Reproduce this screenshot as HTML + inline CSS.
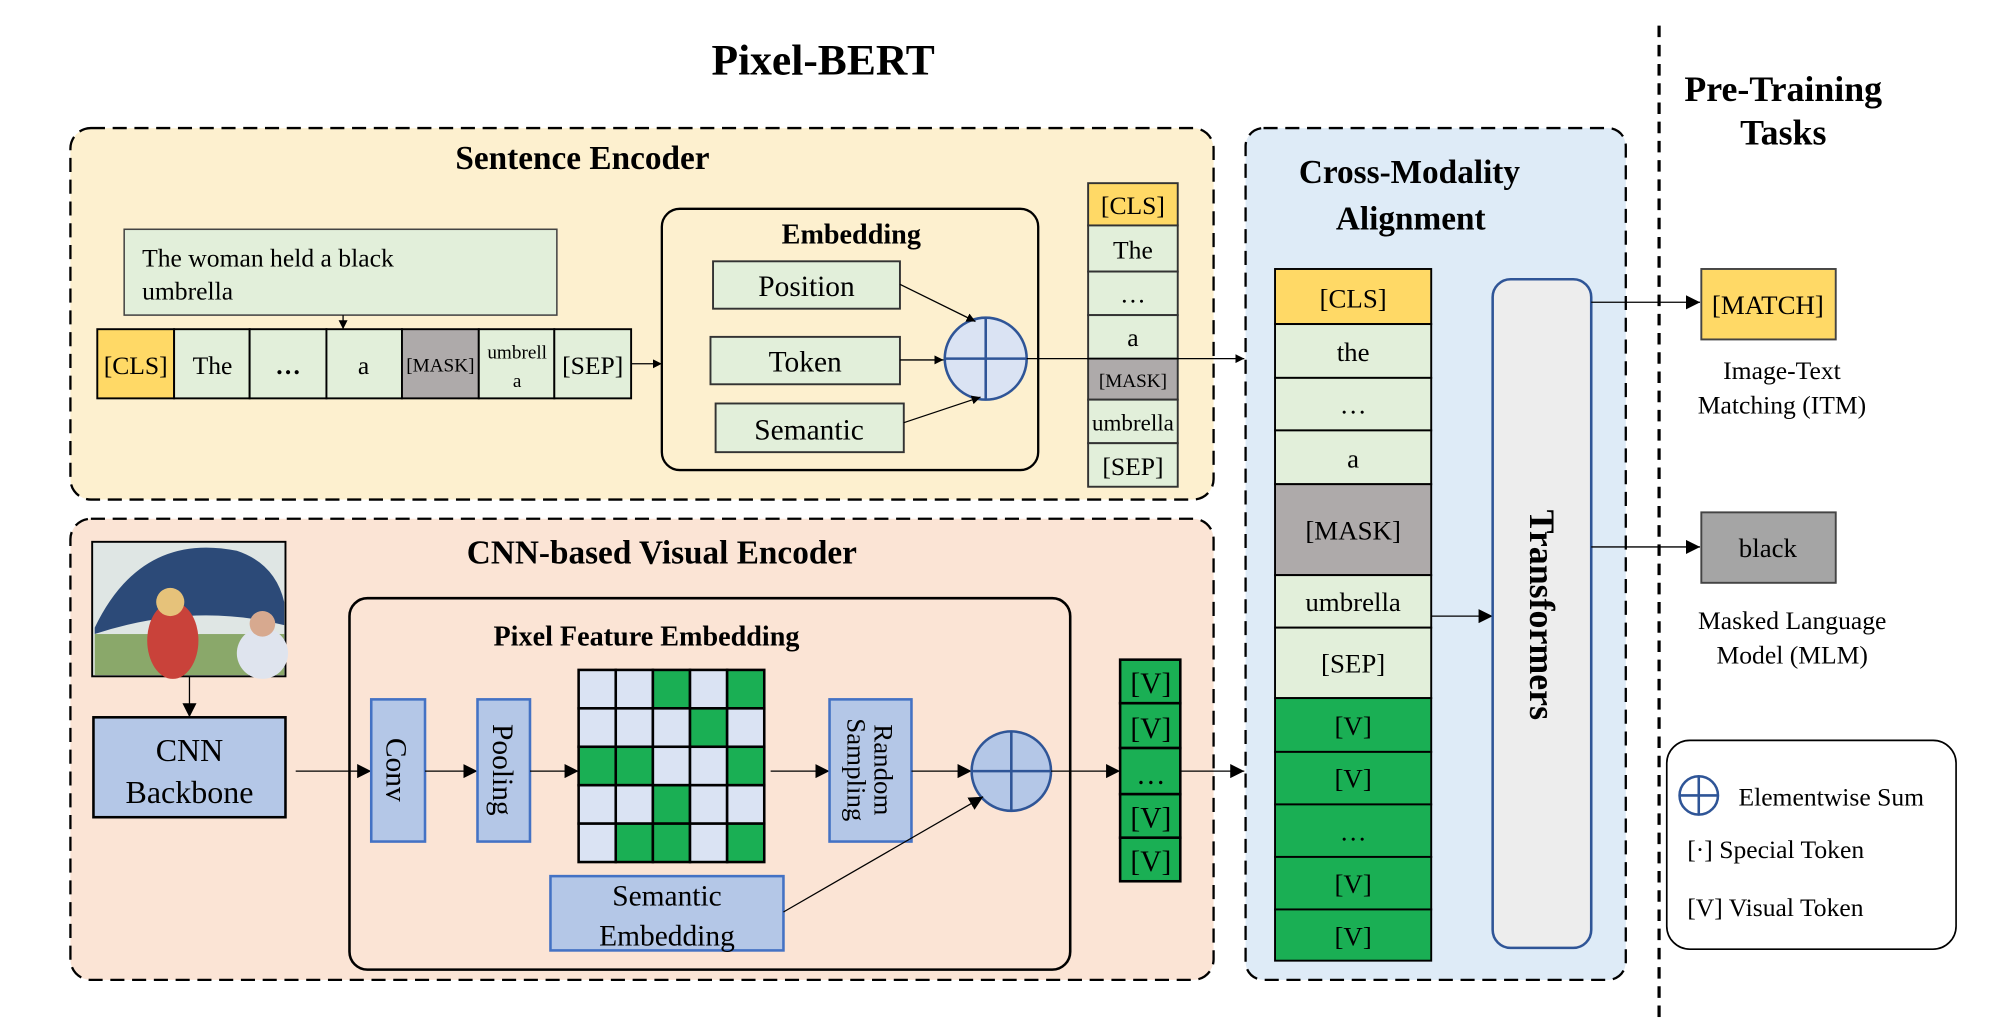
<!DOCTYPE html>
<html><head><meta charset="utf-8"><style>
html,body{margin:0;padding:0;background:#fff;}
svg{display:block;}
text{font-family:"Liberation Serif",serif;fill:#000;}
.b{font-weight:bold;}
</style></head><body>
<svg width="2006" height="1026" viewBox="0 0 1567 801" preserveAspectRatio="none" xmlns="http://www.w3.org/2000/svg">
<defs>
<marker id="a" viewBox="0 0 10 10" refX="10" refY="5" markerWidth="7" markerHeight="7" orient="auto" markerUnits="userSpaceOnUse"><path d="M0,0 L10,5 L0,10 z" fill="#000"/></marker>
<marker id="A" viewBox="0 0 10 10" refX="10" refY="5" markerWidth="11" markerHeight="11" orient="auto" markerUnits="userSpaceOnUse"><path d="M0,0 L10,5 L0,10 z" fill="#000"/></marker>
</defs>
<rect width="1567" height="801" fill="#fff"/>
<text x="643" y="58" font-size="34" class="b" text-anchor="middle">Pixel-BERT</text>

<rect x="55" y="100" width="893" height="290" rx="16" fill="#fdf0cf" stroke="#000" stroke-width="1.8" stroke-dasharray="11,6"/>
<text x="455" y="132" font-size="26" class="b" text-anchor="middle">Sentence Encoder</text>
<rect x="97" y="179" width="338" height="67" fill="#e2efda" stroke="#444" stroke-width="1.2"/>
<text x="111" y="208" font-size="20">The woman held a black</text>
<text x="111" y="234" font-size="20">umbrella</text>
<line x1="268" y1="246" x2="268" y2="257" stroke="#000" marker-end="url(#a)"/>
<g stroke="#000" stroke-width="1.5">
<rect x="76" y="257" width="60" height="54" fill="#ffd966"/>
<rect x="136" y="257" width="59" height="54" fill="#e2efda"/>
<rect x="195" y="257" width="60" height="54" fill="#e2efda"/>
<rect x="255" y="257" width="59" height="54" fill="#e2efda"/>
<rect x="314" y="257" width="60" height="54" fill="#aeaaaa"/>
<rect x="374" y="257" width="59" height="54" fill="#e2efda"/>
<rect x="433" y="257" width="60" height="54" fill="#e2efda"/>
</g>
<g font-size="20" text-anchor="middle">
<text x="106" y="292">[CLS]</text><text x="166" y="292">The</text><text x="225" y="292" class="b">…</text>
<text x="284" y="292">a</text><text x="344" y="290" font-size="15">[MASK]</text>
<text x="404" y="280" font-size="15">umbrell</text><text x="404" y="302" font-size="15">a</text>
<text x="463" y="292">[SEP]</text></g>
<line x1="493" y1="284" x2="517" y2="284" stroke="#000" marker-end="url(#a)"/>
<rect x="517" y="163" width="294" height="204" rx="14" fill="#fdf0cf" stroke="#000" stroke-width="1.8"/>
<text x="665" y="190" font-size="22" class="b" text-anchor="middle">Embedding</text>
<g fill="#e2efda" stroke="#333" stroke-width="1.5">
<rect x="557" y="204" width="146" height="37"/><rect x="555" y="263" width="148" height="37"/><rect x="559" y="315" width="147" height="38"/></g>
<g font-size="23" text-anchor="middle"><text x="630" y="231">Position</text><text x="629" y="290">Token</text><text x="632" y="343">Semantic</text></g>
<circle cx="770" cy="280" r="32" fill="#dae3f3" stroke="#2f5597" stroke-width="2"/>
<path d="M738,280 H802 M770,248 V312" stroke="#2f5597" stroke-width="2"/>
<line x1="703" y1="222" x2="762" y2="251" stroke="#000" marker-end="url(#a)"/>
<line x1="703" y1="281" x2="737" y2="281" stroke="#000" marker-end="url(#a)"/>
<line x1="706" y1="330" x2="766" y2="310" stroke="#000" marker-end="url(#a)"/>
<g stroke="#333" stroke-width="1.5">
<rect x="850" y="143" width="70" height="33" fill="#ffd966"/>
<rect x="850" y="176" width="70" height="36" fill="#e2efda"/>
<rect x="850" y="212" width="70" height="34" fill="#e2efda"/>
<rect x="850" y="246" width="70" height="34" fill="#e2efda"/>
<rect x="850" y="280" width="70" height="32" fill="#aeaaaa"/>
<rect x="850" y="312" width="70" height="34" fill="#e2efda"/>
<rect x="850" y="346" width="70" height="34" fill="#e2efda"/></g>
<g font-size="20" text-anchor="middle">
<text x="885" y="167">[CLS]</text><text x="885" y="202">The</text><text x="885" y="236">…</text>
<text x="885" y="270">a</text><text x="885" y="302" font-size="15">[MASK]</text>
<text x="885" y="336" font-size="18">umbrella</text><text x="885" y="371">[SEP]</text></g>
<line x1="802" y1="280" x2="972" y2="280" stroke="#000" marker-end="url(#a)"/>

<rect x="55" y="405" width="893" height="360" rx="16" fill="#fbe4d5" stroke="#000" stroke-width="1.8" stroke-dasharray="11,6"/>
<text x="517" y="440" font-size="26" class="b" text-anchor="middle">CNN-based Visual Encoder</text>
<rect x="72" y="423" width="151" height="105" fill="#dfe6e4" stroke="#000" stroke-width="1.5"/>
<path d="M74,490 Q110,415 185,430 Q215,440 222,470 L222,488 Q150,470 74,495z" fill="#2c4a78"/>
<rect x="74" y="495" width="148" height="32" fill="#8aa86a"/>
<ellipse cx="135" cy="500" rx="20" ry="30" fill="#c9423a"/>
<circle cx="133" cy="470" r="11" fill="#e6c27a"/>
<ellipse cx="205" cy="510" rx="20" ry="20" fill="#dfe4ee"/>
<circle cx="205" cy="487" r="10" fill="#d7a98f"/>
<line x1="148" y1="528" x2="148" y2="560" stroke="#000" marker-end="url(#A)"/>
<rect x="73" y="560" width="150" height="78" fill="#b4c7e7" stroke="#000" stroke-width="2"/>
<text x="148" y="594" font-size="25" text-anchor="middle">CNN</text>
<text x="148" y="627" font-size="25" text-anchor="middle">Backbone</text>
<rect x="273" y="467" width="563" height="290" rx="14" fill="#fbe4d5" stroke="#000" stroke-width="2"/>
<text x="505" y="504" font-size="22" class="b" text-anchor="middle">Pixel Feature Embedding</text>
<line x1="231" y1="602" x2="290" y2="602" stroke="#000" marker-end="url(#A)"/>
<rect x="290" y="546" width="42" height="111" fill="#b4c7e7" stroke="#4472c4" stroke-width="2"/>
<text transform="translate(302,601) rotate(90)" font-size="23" text-anchor="middle">Conv</text>
<line x1="332" y1="602" x2="373" y2="602" stroke="#000" marker-end="url(#A)"/>
<rect x="373" y="546" width="41" height="111" fill="#b4c7e7" stroke="#4472c4" stroke-width="2"/>
<text transform="translate(385,601) rotate(90)" font-size="23" text-anchor="middle">Pooling</text>
<line x1="414" y1="602" x2="452" y2="602" stroke="#000" marker-end="url(#A)"/>
<g stroke="#000" stroke-width="2">
<rect x="452" y="523" width="29" height="30" fill="#dae3f3"/><rect x="481" y="523" width="29" height="30" fill="#dae3f3"/><rect x="510" y="523" width="29" height="30" fill="#1aaf54"/><rect x="539" y="523" width="29" height="30" fill="#dae3f3"/><rect x="568" y="523" width="29" height="30" fill="#1aaf54"/>
<rect x="452" y="553" width="29" height="30" fill="#dae3f3"/><rect x="481" y="553" width="29" height="30" fill="#dae3f3"/><rect x="510" y="553" width="29" height="30" fill="#dae3f3"/><rect x="539" y="553" width="29" height="30" fill="#1aaf54"/><rect x="568" y="553" width="29" height="30" fill="#dae3f3"/>
<rect x="452" y="583" width="29" height="30" fill="#1aaf54"/><rect x="481" y="583" width="29" height="30" fill="#1aaf54"/><rect x="510" y="583" width="29" height="30" fill="#dae3f3"/><rect x="539" y="583" width="29" height="30" fill="#dae3f3"/><rect x="568" y="583" width="29" height="30" fill="#1aaf54"/>
<rect x="452" y="613" width="29" height="30" fill="#dae3f3"/><rect x="481" y="613" width="29" height="30" fill="#dae3f3"/><rect x="510" y="613" width="29" height="30" fill="#1aaf54"/><rect x="539" y="613" width="29" height="30" fill="#dae3f3"/><rect x="568" y="613" width="29" height="30" fill="#dae3f3"/>
<rect x="452" y="643" width="29" height="30" fill="#dae3f3"/><rect x="481" y="643" width="29" height="30" fill="#1aaf54"/><rect x="510" y="643" width="29" height="30" fill="#1aaf54"/><rect x="539" y="643" width="29" height="30" fill="#dae3f3"/><rect x="568" y="643" width="29" height="30" fill="#1aaf54"/>
</g>
<line x1="602" y1="602" x2="648" y2="602" stroke="#000" marker-end="url(#A)"/>
<rect x="648" y="546" width="64" height="111" fill="#b4c7e7" stroke="#4472c4" stroke-width="2"/>
<text transform="translate(683,601) rotate(90)" font-size="21" text-anchor="middle">Random</text>
<text transform="translate(662,601) rotate(90)" font-size="21" text-anchor="middle">Sampling</text>
<line x1="712" y1="602" x2="759" y2="602" stroke="#000" marker-end="url(#A)"/>
<circle cx="790" cy="602" r="31" fill="#b4c7e7" stroke="#2f5597" stroke-width="2"/>
<path d="M759,602 H821 M790,571 V633" stroke="#2f5597" stroke-width="2"/>
<rect x="430" y="684" width="182" height="58" fill="#b4c7e7" stroke="#4472c4" stroke-width="2"/>
<text x="521" y="707" font-size="23" text-anchor="middle">Semantic</text>
<text x="521" y="738" font-size="23" text-anchor="middle">Embedding</text>
<line x1="612" y1="712" x2="768" y2="622" stroke="#000" marker-end="url(#A)"/>
<line x1="821" y1="602" x2="875" y2="602" stroke="#000" marker-end="url(#A)"/>
<g stroke="#000" stroke-width="2" fill="#1aaf54">
<rect x="875" y="515" width="47" height="34"/><rect x="875" y="549" width="47" height="35"/><rect x="875" y="584" width="47" height="36"/><rect x="875" y="620" width="47" height="34"/><rect x="875" y="654" width="47" height="34"/></g>
<g font-size="23" text-anchor="middle"><text x="899" y="541">[V]</text><text x="899" y="576">[V]</text><text x="899" y="612">…</text><text x="899" y="646">[V]</text><text x="899" y="680">[V]</text></g>
<line x1="922" y1="602" x2="972" y2="602" stroke="#000" marker-end="url(#A)"/>

<rect x="973" y="100" width="297" height="665" rx="14" fill="#deebf7" stroke="#000" stroke-width="1.8" stroke-dasharray="11,6"/>
<text x="1101" y="143" font-size="26" class="b" text-anchor="middle">Cross-Modality</text>
<text x="1102" y="179" font-size="26" class="b" text-anchor="middle">Alignment</text>
<g stroke="#000" stroke-width="1.5">
<rect x="996" y="210" width="122" height="43" fill="#ffd966"/>
<rect x="996" y="253" width="122" height="42" fill="#e2efda"/>
<rect x="996" y="295" width="122" height="41" fill="#e2efda"/>
<rect x="996" y="336" width="122" height="42" fill="#e2efda"/>
<rect x="996" y="378" width="122" height="71" fill="#aeaaaa"/>
<rect x="996" y="449" width="122" height="41" fill="#e2efda"/>
<rect x="996" y="490" width="122" height="55" fill="#e2efda"/>
<rect x="996" y="545" width="122" height="42" fill="#1aaf54"/>
<rect x="996" y="587" width="122" height="41" fill="#1aaf54"/>
<rect x="996" y="628" width="122" height="41" fill="#1aaf54"/>
<rect x="996" y="669" width="122" height="41" fill="#1aaf54"/>
<rect x="996" y="710" width="122" height="40" fill="#1aaf54"/></g>
<g font-size="21" text-anchor="middle">
<text x="1057" y="240">[CLS]</text><text x="1057" y="282">the</text><text x="1057" y="323">…</text>
<text x="1057" y="365">a</text><text x="1057" y="421">[MASK]</text><text x="1057" y="477">umbrella</text>
<text x="1057" y="525">[SEP]</text><text x="1057" y="574">[V]</text><text x="1057" y="615">[V]</text>
<text x="1057" y="656">…</text><text x="1057" y="697">[V]</text><text x="1057" y="738">[V]</text></g>
<line x1="1118" y1="481" x2="1166" y2="481" stroke="#000" marker-end="url(#A)"/>
<rect x="1166" y="218" width="77" height="522" rx="14" fill="#ededed" stroke="#2f5597" stroke-width="2"/>
<text transform="translate(1195,480) rotate(90)" font-size="28" class="b" text-anchor="middle">Transformers</text>

<line x1="1296" y1="20" x2="1296" y2="800" stroke="#000" stroke-width="2.5" stroke-dasharray="9,6"/>
<text x="1393" y="79" font-size="28" class="b" text-anchor="middle">Pre-Training</text>
<text x="1393" y="113" font-size="28" class="b" text-anchor="middle">Tasks</text>
<line x1="1243" y1="236" x2="1328" y2="236" stroke="#000" marker-end="url(#A)"/>
<rect x="1329" y="210" width="105" height="55" fill="#ffd966" stroke="#444" stroke-width="1.5"/>
<text x="1381" y="245" font-size="21" text-anchor="middle">[MATCH]</text>
<text x="1392" y="296" font-size="20" text-anchor="middle">Image-Text</text>
<text x="1392" y="323" font-size="20" text-anchor="middle">Matching (ITM)</text>
<line x1="1243" y1="427" x2="1328" y2="427" stroke="#000" marker-end="url(#A)"/>
<rect x="1329" y="400" width="105" height="55" fill="#a5a5a5" stroke="#444" stroke-width="1.5"/>
<text x="1381" y="435" font-size="21" text-anchor="middle">black</text>
<text x="1400" y="491" font-size="20" text-anchor="middle">Masked Language</text>
<text x="1400" y="518" font-size="20" text-anchor="middle">Model (MLM)</text>
<rect x="1302" y="578" width="226" height="163" rx="18" fill="#fff" stroke="#000" stroke-width="1.3"/>
<circle cx="1327" cy="621" r="15" fill="#fff" stroke="#2f5597" stroke-width="2"/>
<path d="M1312,621 H1342 M1327,606 V636" stroke="#2f5597" stroke-width="2"/>
<text x="1358" y="629" font-size="20">Elementwise Sum</text>
<text x="1318" y="670" font-size="20">[·]   Special Token</text>
<text x="1318" y="715" font-size="20">[V]  Visual Token</text>
</svg>
</body></html>
